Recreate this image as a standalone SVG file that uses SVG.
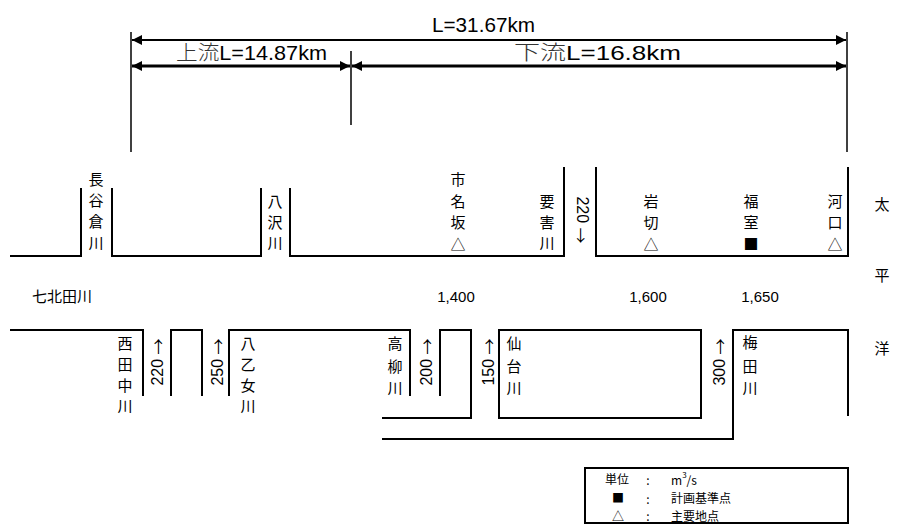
<svg xmlns="http://www.w3.org/2000/svg" width="904" height="527" viewBox="0 0 904 527">
<defs>
<marker id="ah" markerUnits="userSpaceOnUse" markerWidth="12" markerHeight="10" refX="10" refY="5" orient="auto-start-reverse">
<path d="M0,0 L10,5 L0,10 Z" fill="#000"/>
</marker>
<style>
.ln{fill:none;stroke:#000;stroke-width:2}
.dim{fill:none;stroke:#000;stroke-width:1.5}
.jp{font-family:"Noto Sans CJK JP","Noto Sans",sans-serif;font-size:15px;fill:#000;text-anchor:middle;dominant-baseline:central}
.num{font-family:"Liberation Sans","DejaVu Sans",sans-serif;font-size:16px;fill:#000;text-anchor:middle;dominant-baseline:central}
.ar{font-family:"Noto Sans CJK JP","DejaVu Sans",sans-serif;font-size:16px}
.q{font-family:"Liberation Sans",Arial,sans-serif;font-size:15px;fill:#000;text-anchor:middle;dominant-baseline:central}
.km{font-family:"Liberation Sans Narrow","Liberation Sans","Noto Sans CJK JP",sans-serif;font-size:20px;fill:#000}
.lg{font-family:"Noto Sans CJK JP","Liberation Sans",sans-serif;font-size:12px;fill:#000;dominant-baseline:central}
</style>
</defs>
<rect width="904" height="527" fill="#fff"/>

<g id="connectors">
<line class="dim" x1="131" y1="32" x2="131" y2="152"/>
<line class="dim" x1="847" y1="32" x2="847" y2="152"/>
<line class="dim" x1="351" y1="51" x2="351" y2="125"/>
<line x1="132" y1="40" x2="846" y2="40" stroke="#000" stroke-width="2" marker-start="url(#ah)" marker-end="url(#ah)"/>
<line x1="132" y1="66" x2="350" y2="66" stroke="#000" stroke-width="3" marker-start="url(#ah)" marker-end="url(#ah)"/>
<line x1="352" y1="66" x2="846" y2="66" stroke="#000" stroke-width="3" marker-start="url(#ah)" marker-end="url(#ah)"/>
<polyline class="ln" points="10,256 81,256 81,188"/>
<polyline class="ln" points="112,188 112,256 261,256 261,188"/>
<polyline class="ln" points="290,188 290,256 564,256 564,167"/>
<polyline class="ln" points="596,167 596,256 848,256 848,167"/>
<polyline class="ln" points="10,330 143,330 143,396"/>
<polyline class="ln" points="171,396 171,330 202,330 202,396"/>
<polyline class="ln" points="229,396 229,330 410,330 410,396"/>
<polyline class="ln" points="440,396 440,330 471,330 471,418 382,418"/>
<rect class="ln" x="499" y="330" width="202" height="88"/>
<polyline class="ln" points="382,439 733,439 733,330 848,330 848,416"/>
</g>

<g id="dimensions">
<text class="km" x="432" y="32" textLength="103" lengthAdjust="spacingAndGlyphs">L=31.67km</text>
<text class="km" x="176" y="60" textLength="151" lengthAdjust="spacingAndGlyphs"><tspan font-weight="300" fill="#333">上流</tspan>L=14.87km</text>
<text class="km" x="514" y="60" textLength="167" lengthAdjust="spacingAndGlyphs"><tspan font-weight="300" fill="#333">下流</tspan>L=16.8km</text>
</g>

<g id="n-hasekura">
<text class="jp" x="96" y="178">長</text><text class="jp" x="96" y="199">谷</text><text class="jp" x="96" y="220">倉</text><text class="jp" x="96" y="242">川</text>
</g>
<g id="n-yasawa">
<text class="jp" x="275" y="200">八</text><text class="jp" x="275" y="221">沢</text><text class="jp" x="275" y="242">川</text>
</g>
<g id="n-ichinazaka">
<text class="jp" x="458" y="178">市</text><text class="jp" x="458" y="200">名</text><text class="jp" x="458" y="221">坂</text><text class="jp" x="458" y="243">△</text>
</g>
<g id="n-yogai">
<text class="jp" x="547" y="200">要</text><text class="jp" x="547" y="221">害</text><text class="jp" x="547" y="242">川</text>
<text class="num" transform="translate(582,220) rotate(90)">220 <tspan class="ar">→</tspan></text>
</g>
<g id="n-iwakiri">
<text class="jp" x="651" y="200">岩</text><text class="jp" x="651" y="221">切</text><text class="jp" x="651" y="243">△</text>
</g>
<g id="n-fukumuro">
<text class="jp" x="751" y="200">福</text><text class="jp" x="751" y="221">室</text><text class="jp" x="751" y="243">■</text>
</g>
<g id="n-kako">
<text class="jp" x="835" y="200">河</text><text class="jp" x="835" y="221">口</text><text class="jp" x="835" y="243">△</text>
</g>
<g id="n-pacific">
<text class="jp" x="882" y="203" font-size="16">太</text>
<text class="jp" x="882" y="274" font-size="16">平</text>
<text class="jp" x="882" y="347" font-size="16">洋</text>
</g>
<g id="n-nanakita">
<text class="jp" x="62" y="295" font-size="16">七北田川</text>
<text class="q" x="456" y="296">1,400</text>
<text class="q" x="648" y="296">1,600</text>
<text class="q" x="760" y="296">1,650</text>
</g>

<g id="n-nishitanaka">
<text class="jp" x="125" y="342">西</text><text class="jp" x="125" y="363">田</text><text class="jp" x="125" y="384">中</text><text class="jp" x="125" y="405">川</text>
<text class="num" transform="translate(157,362) rotate(-90)">220 <tspan class="ar">→</tspan></text>
</g>
<g id="n-yaotome">
<text class="num" transform="translate(217,362) rotate(-90)">250 <tspan class="ar">→</tspan></text>
<text class="jp" x="248" y="342">八</text><text class="jp" x="248" y="363">乙</text><text class="jp" x="248" y="384">女</text><text class="jp" x="248" y="405">川</text>
</g>
<g id="n-takayanagi">
<text class="jp" x="395" y="342">高</text><text class="jp" x="395" y="365">柳</text><text class="jp" x="395" y="387">川</text>
<text class="num" transform="translate(426,362) rotate(-90)">200 <tspan class="ar">→</tspan></text>
</g>
<g id="n-sendai">
<text class="num" transform="translate(488,362) rotate(-90)">150 <tspan class="ar">→</tspan></text>
<text class="jp" x="514" y="342">仙</text><text class="jp" x="514" y="365">台</text><text class="jp" x="514" y="387">川</text>
</g>
<g id="n-umeda">
<text class="num" transform="translate(719,362) rotate(-90)">300 <tspan class="ar">→</tspan></text>
<text class="jp" x="750" y="341">梅</text><text class="jp" x="750" y="365">田</text><text class="jp" x="750" y="387">川</text>
</g>

<g id="legend">
<rect x="585" y="468" width="263" height="55" fill="#fff" stroke="#000" stroke-width="2"/>
<text class="lg" x="617" y="478" text-anchor="middle">単位</text>
<text class="lg" x="648" y="479" text-anchor="middle">:</text>
<text class="lg" x="671" y="479" font-family="Liberation Sans" font-size="11">m<tspan font-size="8" dy="-5">3</tspan><tspan dy="5">/s</tspan></text>
<text class="lg" x="618" y="497" text-anchor="middle">■</text>
<text class="lg" x="648" y="498" text-anchor="middle">:</text>
<text class="lg" x="671" y="497">計画基準点</text>
<text class="lg" x="618" y="515" text-anchor="middle">△</text>
<text class="lg" x="648" y="515" text-anchor="middle">:</text>
<text class="lg" x="671" y="515">主要地点</text>
</g>
</svg>
